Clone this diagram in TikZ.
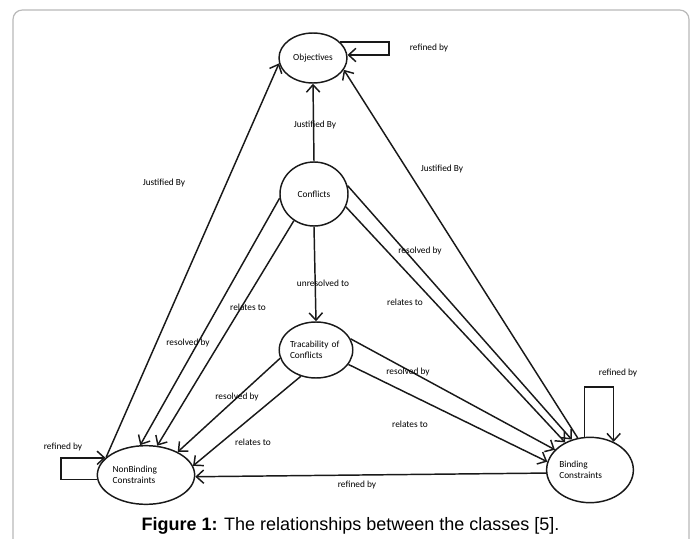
\documentclass[tikz,border=0pt]{standalone}
\usepackage{fontspec}
\setmainfont{Carlito}
\newfontfamily\captionfont{Liberation Sans}
\usetikzlibrary{shapes.geometric,arrows.meta}

\begin{document}
\begin{tikzpicture}[
  x=0.75pt, y=-0.75pt,
  cls/.style={ellipse, draw=black!90, line width=1.1pt, inner sep=0pt, align=left,
              font=\fontsize{7}{8.5}\selectfont, text=black},
  rel/.style={draw=black!90, line width=1.1pt, -{Straight Barb[length=5.5pt,width=10pt]}},
  note/.style={font=\fontsize{7}{8.5}\selectfont, text=black, inner sep=0pt},
]
  \useasboundingbox (0,0) rectangle (694,539);
  % ===== Frame =====
  \draw[gray!55, line width=0.9pt, rounded corners=7pt] (13,10) rectangle (689,600);

  % ===== Classes =====
  \node[cls, minimum width=51pt, minimum height=37.5pt] (obj) at (313,58) {Objectives};
  \node[cls, minimum width=51pt, minimum height=48pt] (conf) at (314,194) {Conflicts};
  \node[cls, minimum width=55pt, minimum height=42pt, text width=39pt] (trac) at (316,350)
       {Tracability of\\ Conflicts};
  \node[cls, minimum width=73pt, minimum height=44pt, text width=50pt] (nonb) at (146,475)
       {NonBinding\\ Constraints};
  \node[cls, minimum width=64pt, minimum height=49pt, text width=46pt] (bind) at (590,470)
       {Binding\\ Constraints};

  % ===== Justified By =====
  \draw[rel] (conf.north) -- (obj.south);
  \draw[rel] (nonb.156) -- (obj.189);
  \draw[rel] (bind.111) -- (obj.339);
  \node[note] (jbmid) at (315,125) {Justified By};
  \node[note] (jbleft) at (164,183) {Justified By};
  \node[note] (jbright) at (442,169) {Justified By};

  % ===== Conflicts out =====
  \draw[rel] (conf.187) -- (nonb.101);
  \draw[rel] (conf.233) -- (nonb.69);
  \draw[rel] (conf.south) -- (trac.north);
  \draw[rel] (conf.14) -- (bind.121);
  \draw[rel] (conf.338) -- (bind.132);
  \node[note] (rscn) at (188,343) {resolved by};
  \node[note] (rlcn) at (248,307) {relates to};
  \node[note] (urct) at (323,283) {unresolved to};
  \node[note] (rscb) at (420,251) {resolved by};
  \node[note] (rlcb) at (405,302) {relates to};

  % ===== Tracability out =====
  \draw[rel] (trac.193) -- (nonb.36);
  \draw[rel] (trac.240) -- (nonb.11);
  \draw[rel] (trac.18) -- (bind.150);
  \draw[rel] (trac.336) -- (bind.169);
  \node[note] (rstn) at (237,397) {resolved by};
  \node[note] (rltn) at (253,442) {relates to};
  \node[note] (rstb) at (408,372) {resolved by};
  \node[note] (rltb) at (410,424) {relates to};

  % ===== refined by =====
  \draw[rel] (obj.31) -- ++(49,0) |- (obj.5);
  \draw[rel] (nonb.185) -- ++(-36,0) |- (nonb.157);
  \draw[rel] (bind.99) -- ++(0,-50) -| (bind.50);
  \draw[rel] (bind.184) -- (nonb.358);
  \node[note] (rfobj) at (429,48) {refined by};
  \node[note] (rfnonb) at (63,447) {refined by};
  \node[note] (rfbind) at (618,373) {refined by};
  \node[note] (rfbot) at (357,485) {refined by};

  % ===== Caption =====
  \node[font=\captionfont\fontsize{13.5}{16}\selectfont, anchor=base, inner sep=0pt] (cap) at (350.5,530)
       {\textbf{Figure 1:} The relationships between the classes [5].};
\end{tikzpicture}
\end{document}
